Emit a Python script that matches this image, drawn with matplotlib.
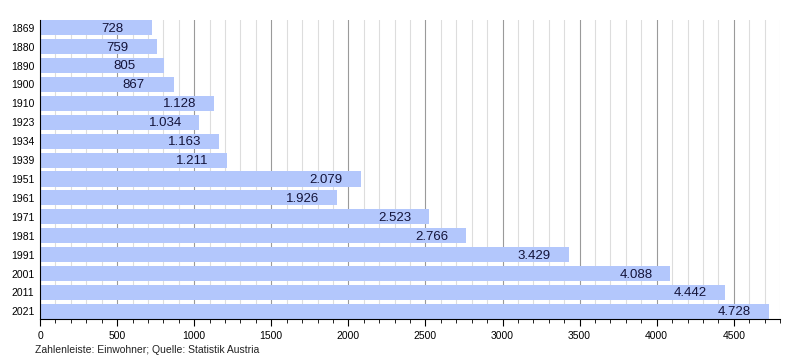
import matplotlib
matplotlib.use("Agg")
import matplotlib.pyplot as plt
from matplotlib.ticker import MultipleLocator

plt.rcParams['font.family'] = ['Liberation Sans', 'DejaVu Sans']

# Einwohner laut Statistik Austria
jahre = ['1869', '1880', '1890', '1900', '1910', '1923', '1934', '1939',
         '1951', '1961', '1971', '1981', '1991', '2001', '2011', '2021']
einwohner = [728, 759, 805, 867, 1128, 1034, 1163, 1211,
             2079, 1926, 2523, 2766, 3429, 4088, 4442, 4728]

bar_color = '#b3c7fc'
text_color = '#14143a'

fig = plt.figure(figsize=(8, 3.6), dpi=100)
ax = fig.add_axes([0.05, 0.114, 0.925, 0.83])

pos = list(range(len(jahre)))
ax.barh(pos, einwohner, height=0.8, color=bar_color, zorder=2)

# Beschriftung in den Balken
for p, v in zip(pos, einwohner):
    txt = f'{v:,}'.replace(',', '.')
    ax.text(v - 330, p + 0.05, txt, ha='left', va='center',
            fontsize=9.5, color=text_color, zorder=3)

ax.set_xlim(0, 4800)
ax.set_ylim(len(jahre) - 0.6, -0.4)
ax.set_yticks(pos)
ax.set_yticklabels(jahre, fontsize=7.5)
ax.tick_params(axis='y', length=0, pad=4)

ax.xaxis.set_major_locator(MultipleLocator(500))
ax.xaxis.set_minor_locator(MultipleLocator(100))
ax.tick_params(axis='x', which='major', length=5, labelsize=7.5, color='black', pad=4)
ax.tick_params(axis='x', which='minor', length=3, color='black')

ax.grid(axis='x', which='major', color='#9a9a9a', linewidth=0.8, zorder=0)
ax.grid(axis='x', which='minor', color='#dddddd', linewidth=0.8, zorder=0)
ax.set_axisbelow(True)

for s in ['top', 'right']:
    ax.spines[s].set_visible(False)
ax.spines['left'].set_color('black')
ax.spines['bottom'].set_color('black')

fig.text(0.044, 0.02, 'Zahlenleiste: Einwohner; Quelle: Statistik Austria',
         fontsize=7.5, color='#222222')

fig.savefig('out.png', dpi=100)
